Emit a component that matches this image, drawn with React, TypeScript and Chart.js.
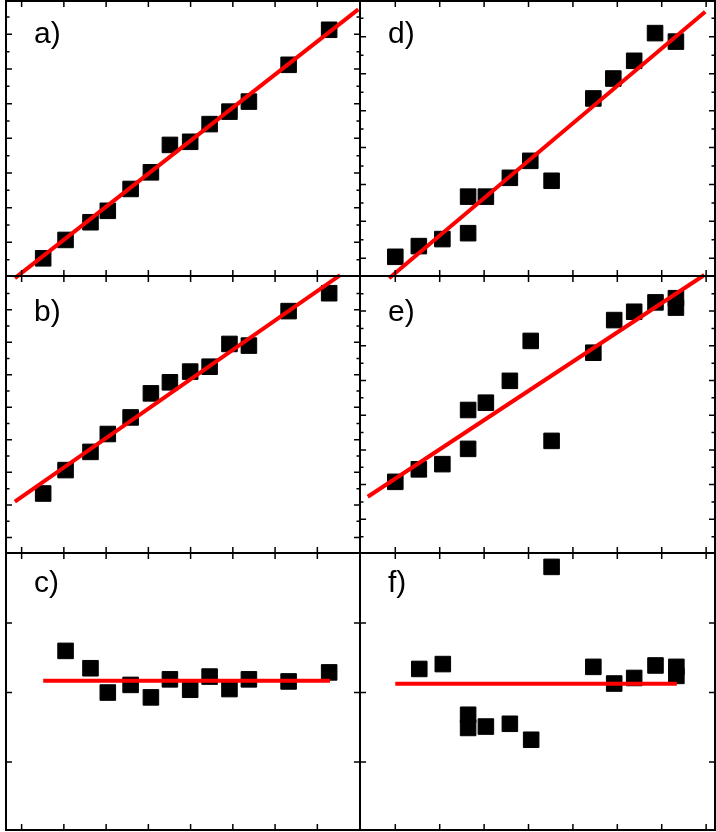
import { useEffect, useRef } from "react";
import { Chart, registerables } from "chart.js";

Chart.register(...registerables);

// x positions shared by the left column (a, b, c) and the right column (d, e, f)
const X_LEFT = [0.51, 1.04, 1.63, 2.04, 2.58, 3.06, 3.51, 3.99, 4.45, 4.92, 5.38, 6.32, 7.28];
const X_C = [1.04, 1.63, 2.04, 2.58, 3.06, 3.51, 3.99, 4.45, 4.92, 5.38, 6.32, 7.28];
const X_D = [0, 0.53, 1.06, 1.64, 1.64, 2.04, 2.58, 3.04, 3.52, 4.46, 4.91, 5.38, 5.85, 6.32];
const X_E = [0, 0.53, 1.06, 1.64, 1.64, 2.04, 2.58, 3.05, 3.52, 4.46, 4.93, 5.38, 5.86, 6.32, 6.32];
const X_F = [0.54, 1.07, 1.64, 1.64, 2.04, 2.58, 3.06, 3.52, 4.46, 4.93, 5.38, 5.86, 6.33, 6.33];

const Y_A = [0.54, 1.07, 1.58, 1.91, 2.54, 3.02, 3.81, 3.9, 4.41, 4.77, 5.06, 6.12, 7.13];
const Y_B = [1.35, 2.07, 2.63, 3.18, 3.69, 4.43, 4.77, 5.1, 5.25, 5.95, 5.9, 6.96, 7.51];
const Y_C = [0.6, 0.35, 0.0, 0.11, -0.07, 0.19, 0.04, 0.23, 0.05, 0.19, 0.16, 0.29];
const Y_D = [0.04, 0.33, 0.52, 0.68, 1.67, 1.67, 2.18, 2.64, 2.1, 4.33, 4.87, 5.35, 6.1, 5.87];
const Y_E = [2.08, 2.44, 2.59, 3.03, 4.15, 4.36, 4.99, 6.14, 3.26, 5.8, 6.74, 6.98, 7.25, 7.37, 7.1];
const Y_F = [0.34, 0.41, -0.32, -0.51, -0.49, -0.45, -0.68, 1.81, 0.37, 0.13, 0.21, 0.39, 0.37, 0.24];

// fitted lines: [x0, x1] and [y0, y1]
const FIT_A_X = [-0.16, 7.97];
const FIT_A_Y = [-0.03, 7.72];
const FIT_B_X = [-0.16, 7.54];
const FIT_B_Y = [1.1, 8.07];
const FIT_C_X = [0.51, 7.3];
const FIT_C_Y = [0.17, 0.17];
const FIT_D_X = [-0.14, 6.98];
const FIT_D_Y = [-0.54, 6.68];
const FIT_E_X = [-0.62, 6.96];
const FIT_E_Y = [1.65, 8.04];
const FIT_F_X = [0, 6.34];
const FIT_F_Y = [0.125, 0.125];

// axis ranges and ticks
const X_RANGE_LEFT = [-0.37, 8.01];
const X_RANGE_RIGHT = [-0.795, 7.2];
const X_TICKS = [0, 1, 2, 3, 4, 5, 6, 7];

const Y_RANGE_A = [0.03, 7.96];
const Y_RANGE_B = [-0.48, 8.04];
const Y_RANGE_C = [-1.98, 2.01];
const Y_RANGE_D = [-0.48, 6.97];
const Y_RANGE_E = [0.03, 8.01];
const Y_RANGE_F = [-1.98, 2.01];

const Y_MAJOR_1_7 = [1, 2, 3, 4, 5, 6, 7];
const Y_MAJOR_0_7 = [0, 1, 2, 3, 4, 5, 6, 7];
const Y_MAJOR_0_6 = [0, 1, 2, 3, 4, 5, 6];
const Y_MAJOR_RES = [-1, 0, 1];
const Y_MINOR_8 = [0.5, 1.5, 2.5, 3.5, 4.5, 5.5, 6.5, 7.5];
const Y_MINOR_7 = [0.5, 1.5, 2.5, 3.5, 4.5, 5.5, 6.5];

const COL_EDGES = [6, 360, 715];
const ROW_EDGES = [1, 276, 553, 830];
const PAD = 5;
const LABEL_BASELINE = [42, 45, 39];

type PanelDef = {
  label: string;
  col: number;
  row: number;
  xs: number[];
  ys: number[];
  fitX: number[];
  fitY: number[];
  xRange: number[];
  yRange: number[];
  yMajor: number[];
  yMinor: number[];
};

const PANELS: PanelDef[] = [
  { label: "a)", col: 0, row: 0, xs: X_LEFT, ys: Y_A, fitX: FIT_A_X, fitY: FIT_A_Y, xRange: X_RANGE_LEFT, yRange: Y_RANGE_A, yMajor: Y_MAJOR_1_7, yMinor: Y_MINOR_8 },
  { label: "b)", col: 0, row: 1, xs: X_LEFT, ys: Y_B, fitX: FIT_B_X, fitY: FIT_B_Y, xRange: X_RANGE_LEFT, yRange: Y_RANGE_B, yMajor: Y_MAJOR_0_7, yMinor: Y_MINOR_8 },
  { label: "c)", col: 0, row: 2, xs: X_C, ys: Y_C, fitX: FIT_C_X, fitY: FIT_C_Y, xRange: X_RANGE_LEFT, yRange: Y_RANGE_C, yMajor: Y_MAJOR_RES, yMinor: [] },
  { label: "d)", col: 1, row: 0, xs: X_D, ys: Y_D, fitX: FIT_D_X, fitY: FIT_D_Y, xRange: X_RANGE_RIGHT, yRange: Y_RANGE_D, yMajor: Y_MAJOR_0_6, yMinor: Y_MINOR_7 },
  { label: "e)", col: 1, row: 1, xs: X_E, ys: Y_E, fitX: FIT_E_X, fitY: FIT_E_Y, xRange: X_RANGE_RIGHT, yRange: Y_RANGE_E, yMajor: Y_MAJOR_1_7, yMinor: Y_MINOR_8 },
  { label: "f)", col: 1, row: 2, xs: X_F, ys: Y_F, fitX: FIT_F_X, fitY: FIT_F_Y, xRange: X_RANGE_RIGHT, yRange: Y_RANGE_F, yMajor: Y_MAJOR_RES, yMinor: [] },
];

// frame, inward ticks on all four sides, panel letter
const framePlugin = {
  id: "panelFrame",
  afterDraw(chart: any, _args: any, opts: any) {
    const { ctx, chartArea } = chart;
    const { left, right, top, bottom } = chartArea;
    const xs = chart.scales.x;
    const ys = chart.scales.y;
    ctx.save();
    ctx.strokeStyle = "#000";
    ctx.lineWidth = 1.5;
    ctx.beginPath();
    xs.ticks.forEach((t: any) => {
      const px = xs.getPixelForValue(t.value);
      ctx.moveTo(px, bottom);
      ctx.lineTo(px, bottom - 6);
      ctx.moveTo(px, top);
      ctx.lineTo(px, top + 6);
    });
    ys.ticks.forEach((t: any) => {
      const py = ys.getPixelForValue(t.value);
      const len = t.major ? 6 : 3.5;
      ctx.moveTo(left, py);
      ctx.lineTo(left + len, py);
      ctx.moveTo(right, py);
      ctx.lineTo(right - len, py);
    });
    ctx.stroke();
    ctx.lineWidth = 2;
    ctx.strokeRect(left, top, right - left, bottom - top);
    ctx.fillStyle = "#000";
    ctx.font = "30px 'Liberation Sans', Arial, sans-serif";
    ctx.textBaseline = "alphabetic";
    ctx.fillText(opts.label, left + 28, top + opts.baseline);
    ctx.restore();
  },
};

function Panel({ p }: { p: PanelDef }) {
  const canvasRef = useRef<HTMLCanvasElement>(null);

  useEffect(() => {
    if (!canvasRef.current) return;
    const chart = new Chart(canvasRef.current, {
      type: "scatter",
      data: {
        datasets: [
          {
            data: p.fitX.map((x, i) => ({ x, y: p.fitY[i] })),
            showLine: true,
            pointRadius: 0,
            borderColor: "#ff0000",
            borderWidth: 4,
            clip: 6,
            order: 0,
          },
          {
            data: p.xs.map((x, i) => ({ x, y: p.ys[i] })),
            pointStyle: "rect",
            pointRadius: 11,
            backgroundColor: "#000",
            borderColor: "#000",
            borderWidth: 1,
            order: 1,
          },
        ],
      },
      options: {
        animation: false,
        responsive: true,
        maintainAspectRatio: false,
        events: [],
        layout: { padding: PAD, autoPadding: false },
        plugins: {
          legend: { display: false },
          tooltip: { enabled: false },
          panelFrame: { label: p.label, baseline: LABEL_BASELINE[p.row] },
        } as any,
        scales: {
          x: {
            type: "linear",
            display: false,
            min: p.xRange[0],
            max: p.xRange[1],
            afterBuildTicks: (scale: any) => {
              scale.ticks = X_TICKS.map((v) => ({ value: v, major: true }));
            },
          },
          y: {
            type: "linear",
            display: false,
            min: p.yRange[0],
            max: p.yRange[1],
            afterBuildTicks: (scale: any) => {
              scale.ticks = [
                ...p.yMajor.map((v) => ({ value: v, major: true })),
                ...p.yMinor.map((v) => ({ value: v, major: false })),
              ];
            },
          },
        },
      },
      plugins: [framePlugin],
    });
    return () => chart.destroy();
  }, [p]);

  const x0 = COL_EDGES[p.col];
  const x1 = COL_EDGES[p.col + 1];
  const y0 = ROW_EDGES[p.row];
  const y1 = ROW_EDGES[p.row + 1];

  return (
    <div
      style={{
        position: "absolute",
        left: x0 - PAD,
        top: y0 - PAD,
        width: x1 - x0 + 2 * PAD,
        height: y1 - y0 + 2 * PAD,
      }}
    >
      <canvas ref={canvasRef} />
    </div>
  );
}

export default function App() {
  return (
    <div style={{ position: "absolute", left: 0, top: 0, width: 716, height: 832, background: "#fff" }}>
      {PANELS.map((p) => (
        <Panel key={p.label} p={p} />
      ))}
    </div>
  );
}
